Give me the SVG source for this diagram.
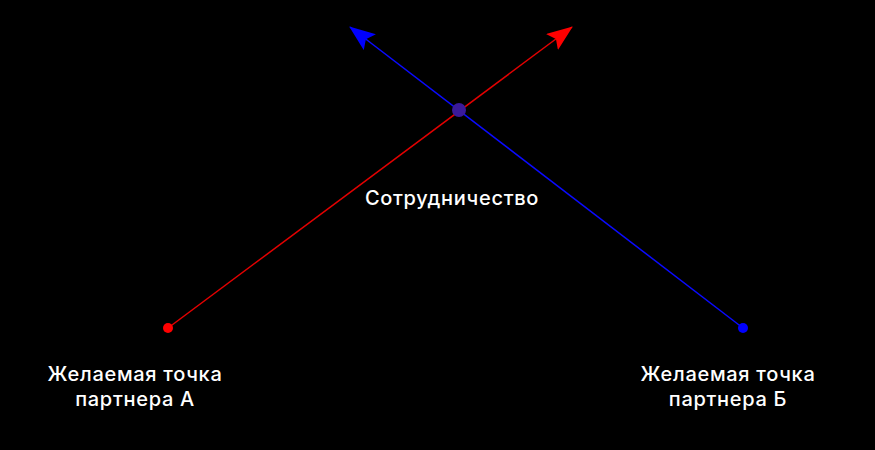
<svg xmlns="http://www.w3.org/2000/svg" width="875" height="450" viewBox="0 0 875 450">
<style>
text{font-family:Inter,"Noto Sans","DejaVu Sans",sans-serif;font-size:20px;fill:#ffffff;text-anchor:middle;font-weight:500;letter-spacing:0.7px}
</style>
<defs>
<marker id="ar" viewBox="0 0 26 20" refX="25" refY="10" markerWidth="26" markerHeight="20" markerUnits="userSpaceOnUse" orient="auto"><path d="M0,0 L26,10 L0,20 L5,10 Z" fill="#ff0000"/></marker>
<marker id="ab" viewBox="0 0 26 20" refX="25" refY="10" markerWidth="26" markerHeight="20" markerUnits="userSpaceOnUse" orient="auto"><path d="M0,0 L26,10 L0,20 L5,10 Z" fill="#0000ff"/></marker>
</defs>
<rect width="875" height="450" fill="#000000"/>
<g id="connectors">
<line x1="168" y1="328" x2="572" y2="27" stroke="#e30000" stroke-width="1.5" marker-end="url(#ar)"/>
<line x1="743" y1="328" x2="350" y2="27" stroke="#0a0aff" stroke-width="1.5" marker-end="url(#ab)"/>
</g>
<g id="pointA"><circle cx="168" cy="328" r="5" fill="#ff0000"/><text x="135" y="381">Желаемая точка</text><text x="135" y="406">партнера А</text></g>
<g id="pointB"><circle cx="743" cy="328" r="5" fill="#0000ff"/><text x="728" y="381">Желаемая точка</text><text x="728" y="406">партнера Б</text></g>
<g id="cooperation"><circle cx="459" cy="110" r="7" fill="#3a1a9a"/><text x="452" y="205">Сотрудничество</text></g>
</svg>
